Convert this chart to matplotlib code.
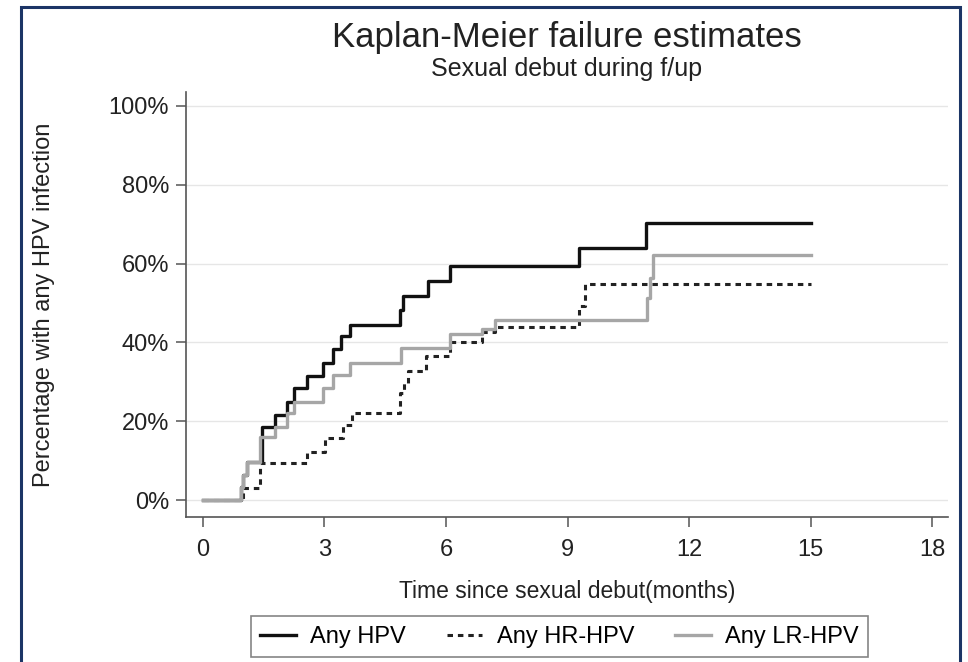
import matplotlib.pyplot as plt
from matplotlib.patches import Rectangle
from matplotlib.ticker import FuncFormatter

plt.rcParams['font.family'] = ['Liberation Sans', 'DejaVu Sans']

# Kaplan-Meier failure estimates (months, percent)
t_any = [0, 0.95, 1.0, 1.1, 1.45, 1.78, 2.07, 2.25, 2.56, 2.97, 3.22, 3.42, 3.63,
         4.86, 4.95, 5.56, 6.1, 9.28, 10.94, 15]
p_any = [0, 3.2, 6.4, 9.7, 18.6, 21.6, 25.0, 28.4, 31.4, 34.8, 38.2, 41.6, 44.5,
         48.3, 51.7, 55.5, 59.4, 64.0, 70.2, 70.2]

t_hr = [0, 1.0, 1.41, 2.56, 3.01, 3.46, 3.67, 4.86, 4.97, 5.06, 5.5, 6.1, 6.9,
        7.2, 9.28, 9.43, 15]
p_hr = [0, 3.1, 9.3, 12.3, 15.7, 19.0, 22.2, 27.2, 29.8, 32.8, 36.5, 40.0, 42.7,
        43.9, 49.2, 54.7, 54.7]

t_lr = [0, 0.95, 1.0, 1.1, 1.4, 1.78, 2.07, 2.25, 2.97, 3.22, 3.63, 4.9, 6.1,
        6.88, 7.2, 10.96, 11.04, 11.12, 15]
p_lr = [0, 3.2, 6.4, 9.7, 16.1, 18.6, 22.0, 25.0, 28.4, 31.8, 34.8, 38.6, 42.0,
        43.3, 45.8, 51.3, 56.4, 62.1, 62.1]

x_ticks = [0, 3, 6, 9, 12, 15, 18]
y_ticks = [0, 20, 40, 60, 80, 100]

fig = plt.figure(figsize=(9.68, 6.62), dpi=100)
ax = fig.add_axes([0.192, 0.219, 0.787, 0.642])

ax.step(t_any, p_any, where='post', color='#111111', lw=2.4, label='Any HPV')
ax.step(t_hr, p_hr, where='post', color='#222222', lw=2.2,
        linestyle=(0, (1.8, 1.6)), label='Any HR-HPV')
ax.step(t_lr, p_lr, where='post', color='#a6a6a6', lw=2.4, label='Any LR-HPV')

ax.set_xlim(-0.42, 18.38)
ax.set_ylim(-4.3, 103.5)
ax.set_xticks(x_ticks)
ax.set_yticks(y_ticks)
ax.yaxis.set_major_formatter(FuncFormatter(lambda v, p: f'{int(v)}%'))
ax.grid(axis='y', color='#e6e6e6', lw=1)
ax.set_axisbelow(True)
for s in ['top', 'right']:
    ax.spines[s].set_visible(False)
for s in ['left', 'bottom']:
    ax.spines[s].set_color('#555555')
    ax.spines[s].set_linewidth(1.2)
ax.tick_params(direction='out', length=7, width=1.1, color='#555555',
               labelsize=17, labelcolor='#222222', pad=5)
ax.tick_params(axis='x', pad=9)

ax.set_xlabel('Time since sexual debut(months)', fontsize=16.5, color='#222222')
ax.xaxis.set_label_coords(0.5, -0.148)
ax.set_ylabel('Percentage with any HPV infection', fontsize=17, color='#222222')
ax.yaxis.set_label_coords(-0.172, 0.5)

xc = 0.192 + 0.787 / 2
fig.text(xc, 0.944, 'Kaplan-Meier failure estimates', ha='center', va='center',
         fontsize=25, color='#222222')
fig.text(xc, 0.896, 'Sexual debut during f/up', ha='center', va='center',
         fontsize=18, color='#222222')

leg = fig.legend(loc='center', bbox_to_anchor=(0.578, 0.038), ncol=3,
                 fontsize=17, frameon=True, fancybox=False, handlelength=1.5,
                 columnspacing=1.75, borderpad=0.4, handletextpad=0.6)
leg.get_frame().set_edgecolor('#666666')
leg.get_frame().set_linewidth(1.2)

# outer navy frame
fig.patches.append(Rectangle((0.022, -0.05), 0.970, 1.039, transform=fig.transFigure,
                             fill=False, edgecolor='#1c3566', lw=2.2))

fig.savefig('out.png', dpi=100)
